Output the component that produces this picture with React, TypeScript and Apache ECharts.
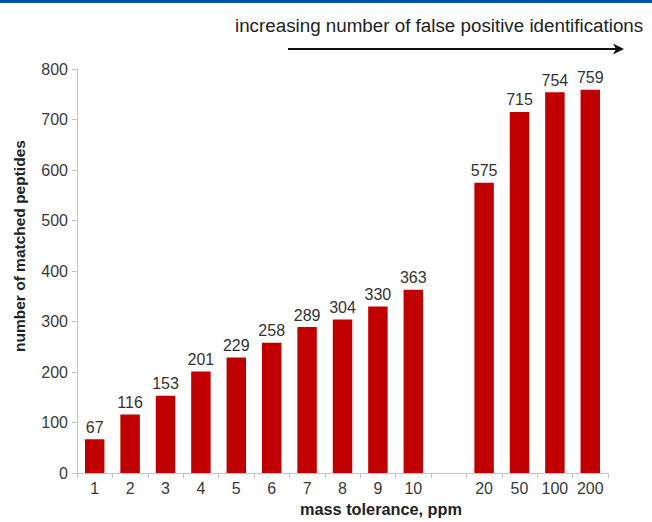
import React, { useEffect, useRef } from "react";
import * as echarts from "echarts";

const categories = ["1", "2", "3", "4", "5", "6", "7", "8", "9", "10", "", "20", "50", "100", "200"];
const matchedPeptides: (number | string)[] = [67, 116, 153, 201, 229, 258, 289, 304, 330, 363, "-", 575, 715, 754, 759];
const yTicks = { min: 0, max: 800, interval: 100 };
const xTitle = "mass tolerance, ppm";
const yTitle = "number of matched peptides";
const arrowText = "increasing number of false positive identifications";

export default function App() {
  const ref = useRef<HTMLDivElement>(null);
  useEffect(() => {
    if (!ref.current) return;
    const chart = echarts.init(ref.current, null, { renderer: "svg" });
    const font = "Liberation Sans, Arial, sans-serif";
    chart.setOption({
      animation: false,
      backgroundColor: "#ffffff",
      textStyle: { fontFamily: font },
      grid: { left: 77, right: 44, top: 69, bottom: 42, containLabel: false },
      xAxis: {
        type: "category",
        data: categories,
        name: xTitle,
        nameLocation: "middle",
        nameGap: 26,
        nameTextStyle: { fontSize: 16.3, fontWeight: "bold", color: "#222", fontFamily: font, padding: [0, 0, 0, 77] },
        axisLine: { lineStyle: { color: "#c4c4c4", width: 1 } },
        axisTick: { show: true, length: 5, lineStyle: { color: "#c4c4c4" } },
        axisLabel: { fontSize: 16, color: "#3a3a3a", margin: 7, fontFamily: font, interval: 0 },
        splitLine: { show: false },
      },
      yAxis: {
        type: "value",
        min: yTicks.min,
        max: yTicks.max,
        interval: yTicks.interval,
        name: yTitle,
        nameLocation: "middle",
        nameGap: 50,
        nameRotate: 90,
        nameTextStyle: { fontSize: 15.5, fontWeight: "bold", color: "#222", fontFamily: font, padding: [0, 0, 0, 50] },
        axisLine: { show: true, lineStyle: { color: "#c4c4c4", width: 1 } },
        axisTick: { show: true, length: 5, lineStyle: { color: "#c4c4c4" } },
        axisLabel: { fontSize: 16, color: "#3a3a3a", margin: 9, fontFamily: font },
        splitLine: { show: false },
      },
      series: [
        {
          type: "bar",
          data: matchedPeptides,
          barCategoryGap: "45%",
          itemStyle: { color: "#c00000" },
          label: { show: true, position: "top", distance: 4, fontSize: 16, color: "#333", fontFamily: font },
        },
      ],
      graphic: [
        { type: "rect", left: 0, top: 0, shape: { x: 0, y: 0, width: 652, height: 3 }, style: { fill: "#0b4f9e" } },
        {
          type: "text",
          x: 235,
          y: 25,
          style: { text: arrowText, fontSize: 18.8, fill: "#222", font: `18.8px ${font}`, textAlign: "left", textVerticalAlign: "middle" },
        },
        { type: "line", shape: { x1: 288, y1: 49, x2: 618, y2: 49 }, style: { stroke: "#111", lineWidth: 2 } },
        { type: "polygon", shape: { points: [[613, 43.5], [624, 49], [613, 54.5], [616, 49]] }, style: { fill: "#111" } },
      ],
    });
    return () => chart.dispose();
  }, []);
  return <div ref={ref} style={{ width: 652, height: 522, position: "absolute", left: 0, top: 0 }} />;
}
